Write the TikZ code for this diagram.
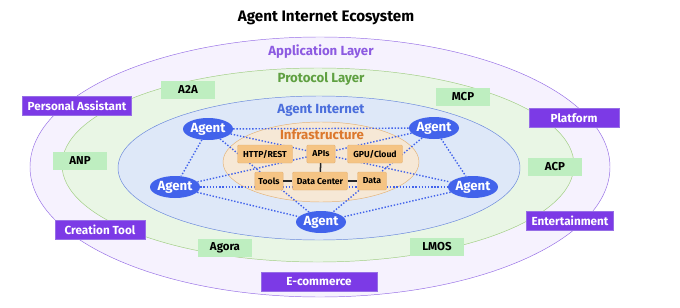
\documentclass[tikz,border=0pt]{standalone}
\usepackage{fontspec}
\setmainfont{Fira Sans}
\usepackage{xcolor}
\usetikzlibrary{shapes.geometric}
\definecolor{appfill}{RGB}{246,242,254}
\definecolor{appline}{RGB}{150,110,230}
\definecolor{appbox}{RGB}{124,58,230}
\definecolor{apptext}{RGB}{140,90,225}
\definecolor{protofill}{RGB}{233,246,229}
\definecolor{protoline}{RGB}{160,205,130}
\definecolor{protobox}{RGB}{190,238,192}
\definecolor{prototext}{RGB}{95,160,65}
\definecolor{netfill}{RGB}{222,232,248}
\definecolor{netline}{RGB}{105,135,220}
\definecolor{nettext}{RGB}{75,110,220}
\definecolor{agentblue}{RGB}{66,99,235}
\definecolor{infrafill}{RGB}{246,232,214}
\definecolor{infraline}{RGB}{228,178,118}
\definecolor{infrabox}{RGB}{245,196,132}
\definecolor{infratext}{RGB}{220,120,45}
\pgfdeclarelayer{back}
\pgfdeclarelayer{lines}
\pgfsetlayers{back,lines,main}

\begin{document}
\begin{tikzpicture}[x=0.03cm,y=-0.03cm,
  app/.style={fill=appbox,draw=appline,text=white,font=\bfseries\fontsize{10}{12}\selectfont,minimum width=2.7cm,minimum height=0.56cm,inner sep=2pt},
  proto/.style={fill=protobox,text=black,font=\bfseries\fontsize{9.8}{11}\selectfont,minimum width=1.6cm,minimum height=0.54cm,inner sep=2pt},
  agent/.style={ellipse,fill=agentblue,text=white,font=\bfseries\fontsize{11.3}{13}\selectfont,minimum width=1.5cm,minimum height=0.66cm,inner sep=0pt},
  infra/.style={fill=infrabox,draw=infraline,rounded corners=1pt,font=\bfseries\fontsize{7.4}{8}\selectfont,minimum height=0.54cm,inner sep=1.5pt},
  layer/.style={font=\bfseries\fontsize{11.3}{13}\selectfont},
  link/.style={agentblue,line width=1.2pt,dash pattern=on 1.2pt off 1.5pt},
  wire/.style={black!85,line width=1.3pt}]
\useasboundingbox (0,0) rectangle (680,307);

% layers
\begin{pgfonlayer}{back}
\draw[fill=appfill,draw=appline] (320,167) ellipse (290 and 130);
\draw[fill=protofill,draw=protoline] (318,165) ellipse (256 and 97);
\draw[fill=netfill,draw=netline] (319,168) ellipse (201 and 72);
\draw[fill=infrafill,draw=infraline] (321,162) ellipse (98 and 40);
\end{pgfonlayer}

\node[font=\bfseries\fontsize{13}{15}\selectfont] (title) at (326,18) {Agent Internet Ecosystem};
\node[layer,text=apptext] (applabel) at (321,52) {Application Layer};
\node[layer,text=prototext] (protolabel) at (321,79) {Protocol Layer};
\node[layer,text=nettext] (netlabel) at (321,110) {Agent Internet};
\node[layer,text=infratext] (infralabel) at (322,135) {Infrastructure};

% application layer
\node[app,minimum width=3.27cm] (assistant) at (77,106) {Personal Assistant};
\node[app] (platform) at (574,118) {Platform};
\node[app] (creation) at (100,230) {Creation Tool};
\node[app,minimum width=2.6cm] (entertain) at (570,221) {Entertainment};
\node[app,minimum width=3.48cm] (ecommerce) at (319,282) {E-commerce};

% protocol layer
\node[proto] (atoa) at (188,90) {A2A};
\node[proto] (mcp) at (463,97) {MCP};
\node[proto] (anp) at (80,161) {ANP};
\node[proto] (acp) at (555,167) {ACP};
\node[proto] (agora) at (225,248) {Agora};
\node[proto] (lmos) at (437,247) {LMOS};

% agents
\node[agent] (a1) at (208,129) {Agent};
\node[agent] (a2) at (434,128) {Agent};
\node[agent] (a3) at (175,187) {Agent};
\node[agent] (a4) at (473,187) {Agent};
\node[agent] (a5) at (321,222) {Agent};

% infrastructure
\node[infra,minimum width=1.65cm] (http) at (265,154) {HTTP/REST};
\node[infra,minimum width=0.85cm] (apis) at (321,154) {APIs};
\node[infra,minimum width=1.65cm] (gpu) at (375,154) {GPU/Cloud};
\node[infra,minimum width=0.85cm] (tools) at (269,181) {Tools};
\node[infra,minimum width=1.65cm] (dc) at (320,181) {Data Center};
\node[infra,minimum width=0.87cm] (data) at (372,181) {Data};

\draw[wire] (apis) -- (dc);
\draw[wire] (tools) -- (dc);
\draw[wire] (dc) -- (data);

\begin{pgfonlayer}{lines}
\foreach \i/\j in {a1/a2,a1/a3,a1/a4,a1/a5,a2/a3,a2/a4,a2/a5,a3/a4,a3/a5,a4/a5}
  \draw[link] (\i) -- (\j);
\end{pgfonlayer}
\end{tikzpicture}
\end{document}
